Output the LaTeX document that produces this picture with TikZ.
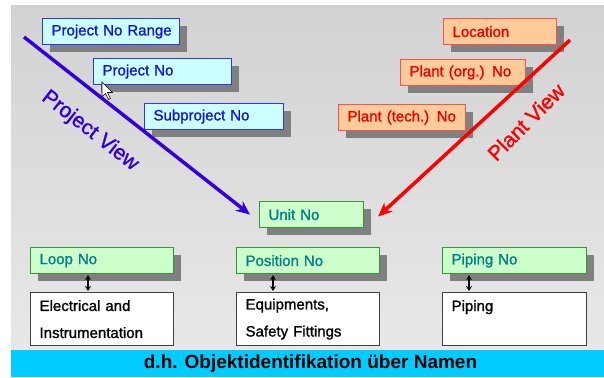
\documentclass[tikz,border=0pt]{standalone}
\usepackage{fontspec}
\setmainfont{Liberation Sans}
\newfontfamily\heavyfont[RawFeature={embolden=1.2}]{Liberation Sans}
\usetikzlibrary{shadows,arrows.meta,calc}

\definecolor{panelTop}{RGB}{210,210,210}
\definecolor{panelBot}{RGB}{232,232,232}
\definecolor{bandCyan}{RGB}{0,204,255}
\definecolor{shadowGrey}{RGB}{128,128,128}
\definecolor{projLine}{RGB}{51,0,221}
\definecolor{projFill}{RGB}{204,255,255}
\definecolor{projDraw}{RGB}{51,51,255}
\definecolor{projText}{RGB}{20,20,220}
\definecolor{plantFill}{RGB}{255,204,153}
\definecolor{plantDraw}{RGB}{255,80,80}
\definecolor{plantText}{RGB}{235,0,0}
\definecolor{plantLine}{RGB}{255,0,0}
\definecolor{unitFill}{RGB}{204,255,204}
\definecolor{unitDraw}{RGB}{51,153,51}
\definecolor{unitText}{RGB}{0,128,128}
\definecolor{areaDraw}{RGB}{64,64,64}

\tikzset{
  idbox/.style={anchor=north west, inner xsep=9pt, inner ysep=0pt,
    minimum height=26pt, align=left, line width=1.1pt,
    font=\heavyfont\fontsize{15}{18}\selectfont,
    drop shadow={shadow xshift=7pt, shadow yshift=-7pt, fill=shadowGrey, opacity=1}},
  projbox/.style={idbox, fill=projFill, draw=projDraw, text=projText},
  plantbox/.style={idbox, fill=plantFill, draw=plantDraw, text=plantText},
  unitbox/.style={idbox, fill=unitFill, draw=unitDraw, text=unitText},
  areabox/.style={anchor=north west, inner xsep=9pt, inner ysep=0pt,
    minimum height=53pt, align=left, fill=white, draw=areaDraw, line width=1.2pt,
    font=\heavyfont\fontsize{15}{27}\selectfont, text=black},
  viewline/.style={line width=3.5pt, -{Stealth[length=14pt,width=12pt]}},
  viewlabel/.style={font=\heavyfont\fontsize{21}{24}\selectfont},
  linkarrow/.style={line width=1.2pt, {Stealth[length=5pt,width=6pt]}-{Stealth[length=5pt,width=6pt]}}
}

\begin{document}
\begin{tikzpicture}[x=1pt,y=-1pt]
  \useasboundingbox (0,0) rectangle (604,377);
  % background panel and caption band
  \shade[top color=panelTop, bottom color=panelBot] (11,6) rectangle (604,350);
  \fill[bandCyan] (11,350) rectangle (604,377);
  \node[font=\bfseries\fontsize{19}{22}\selectfont] (caption) at (310.5,364) {d.h. Objektidentifikation über Namen};

  % project view identifiers
  \node[projbox, text width=119pt] (pnr) at (42,18) {\mbox{Project No Range}};
  \node[projbox, text width=120pt] (pno) at (93,58) {Project No};
  \node[projbox, text width=121pt] (spn) at (144,103) {Subproject No};

  % plant view identifiers
  \node[plantbox, text width=95pt] (loc) at (443,18) {Location};
  \node[plantbox, text width=107pt] (porg) at (400,59) {\mbox{Plant (org.) No}};
  \node[plantbox, text width=109pt] (ptech) at (338,104) {\mbox{Plant (tech.) No}};

  % unit and sub-identifiers
  \node[unitbox, text width=86pt] (unit) at (259,201) {Unit No};
  \node[unitbox, text width=125pt] (loop) at (30,247) {Loop No};
  \node[unitbox, text width=125pt] (pos) at (236,247) {Position No};
  \node[unitbox, text width=126pt] (pip) at (442,247) {Piping No};

  % engineering areas
  \node[areabox, text width=125pt] (ei) at (30,292) {Electrical and\\Instrumentation};
  \node[areabox, text width=125pt] (eq) at (236,292) {Equipments,\\Safety Fittings};
  \node[areabox, text width=126pt] (pw) at (442,292) {Piping\\\mbox{}};

  % links between identifiers and areas
  \draw[linkarrow] ($(loop.south west)+(58,1)$) -- ($(ei.north west)+(58,-1)$);
  \draw[linkarrow] ($(pos.south west)+(37,1)$) -- ($(eq.north west)+(37,-1)$);
  \draw[linkarrow] ($(pip.south west)+(27,1)$) -- ($(pw.north west)+(27,-1)$);

  % the two views converging on the unit
  \coordinate (pvstart) at (24,37);
  \coordinate (plstart) at (570,40);
  \draw[viewline, projLine] (pvstart) -- ([xshift=-9pt]unit.west);
  \draw[viewline, plantLine] (plstart) -- ([xshift=14pt,yshift=-2pt]unit.east);
  \node[viewlabel, text=projLine, rotate=-38] (pvlabel) at (90,131) {Project View};
  \node[viewlabel, text=plantLine, rotate=45] (pllabel) at (526,122) {Plant View};

  % mouse pointer
  \draw[fill=white, line width=0.6pt, line join=miter] (102,82) -- ++(0,15) -- ++(3.5,-3.5)
    -- ++(3,6) -- ++(2,-1) -- ++(-3,-6) -- ++(5,0) -- cycle;
\end{tikzpicture}
\end{document}
